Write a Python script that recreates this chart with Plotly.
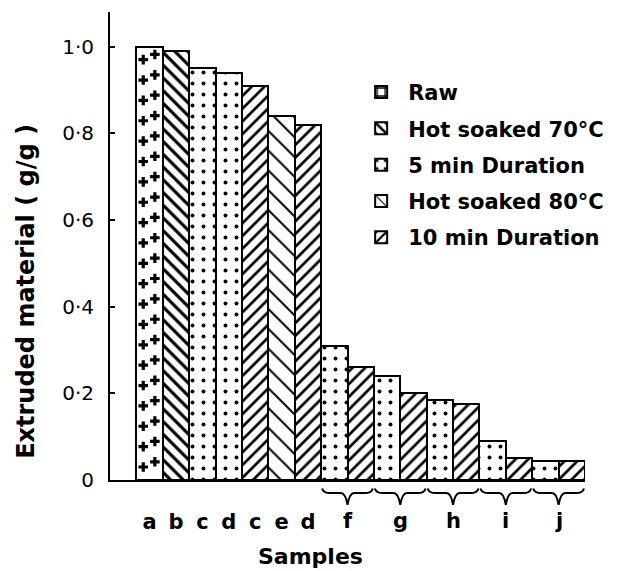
import numpy as np
import plotly.graph_objects as go

# ---- data ----
bar_labels = ["a", "b", "c", "d", "c", "e", "d",
              "f", "f", "g", "g", "h", "h", "i", "i", "j", "j"]
bar_series = ["Raw", "Hot soaked 70°C", "5 min Duration", "5 min Duration",
              "10 min Duration", "Hot soaked 80°C", "10 min Duration",
              "5 min Duration", "10 min Duration",
              "5 min Duration", "10 min Duration",
              "5 min Duration", "10 min Duration",
              "5 min Duration", "10 min Duration",
              "5 min Duration", "10 min Duration"]
bar_values = [1.00, 0.99, 0.95, 0.94, 0.91, 0.84, 0.82,
              0.31, 0.26, 0.24, 0.20, 0.185, 0.175, 0.09, 0.05, 0.045, 0.045]
series_order = ["Raw", "Hot soaked 70°C", "5 min Duration",
                "Hot soaked 80°C", "10 min Duration"]
group_labels = ["f", "g", "h", "i", "j"]
y_ticks = [0, 0.2, 0.4, 0.6, 0.8, 1.0]
y_ticktext = ["0", "0·2", "0·4", "0·6", "0·8", "1·0"]

patterns = {
    "Raw": dict(shape="+", size=11, solidity=0.3),
    "Hot soaked 70°C": dict(shape="\\", size=9, solidity=0.35),
    "5 min Duration": dict(shape=".", size=11, solidity=0.1),
    "Hot soaked 80°C": dict(shape="\\", size=14, solidity=0.14),
    "10 min Duration": dict(shape="/", size=9, solidity=0.3),
}

FONT = "DejaVu Sans"
BOLD = dict(family=FONT, color="black", weight="bold")
fig = go.Figure()
for s in series_order:
    xs = [i for i, ser in enumerate(bar_series) if ser == s]
    ys = [bar_values[i] for i in xs]
    p = patterns[s]
    fig.add_trace(go.Bar(
        x=xs, y=ys, name=s, width=1.0, legendgroup=s,
        marker=dict(color="white", line=dict(color="black", width=2),
                    pattern=dict(shape=p["shape"], size=p["size"],
                                 solidity=p["solidity"], fgcolor="black",
                                 fgopacity=1, bgcolor="white",
                                 fillmode="overlay")),
    ))

# Raw bar: discrete plus signs instead of a grid (legend keeps the pattern)
raw_idx = [i for i, ser in enumerate(bar_series) if ser == "Raw"]
for i in raw_idx:
    fig.add_trace(go.Bar(x=[i], y=[bar_values[i]], width=1.0, showlegend=False,
                         hoverinfo="skip",
                         marker=dict(color="white",
                                     line=dict(color="black", width=2))))
    rows = np.arange(0.03, bar_values[i] - 0.02, 0.047)
    cx = np.concatenate([np.full(len(rows), i - 0.24), np.full(len(rows), i + 0.2)])
    cy = np.concatenate([rows, rows + 0.012])
    fig.add_trace(go.Scatter(x=cx, y=cy, mode="markers", showlegend=False,
                             hoverinfo="skip",
                             marker=dict(symbol="cross", size=8, color="black",
                                         line=dict(width=0))))

# first seven bars get individual tick labels
single_idx = list(range(7))
fig.update_xaxes(
    range=[-1.5, len(bar_values) - 0.5],
    tickvals=single_idx, ticktext=[bar_labels[i] for i in single_idx],
    ticks="", ticklabelstandoff=22,
    tickfont=dict(size=21, **BOLD),
    showline=True, linecolor="black", linewidth=2,
    showgrid=False, zeroline=False,
)
fig.update_yaxes(
    range=[0, 1.08], tickvals=y_ticks, ticktext=y_ticktext,
    ticks="inside", ticklen=5, tickwidth=2, tickcolor="black",
    ticklabelstandoff=10,
    tickfont=dict(family=FONT, size=20, color="black"),
    showline=True, linecolor="black", linewidth=2,
    showgrid=False, zeroline=False,
)

# braces and labels for paired groups
shapes = []
annotations = []
for g in group_labels:
    idx = [i for i, l in enumerate(bar_labels) if l == g]
    left, right = min(idx) - 0.5, max(idx) + 0.5
    mid = (left + right) / 2
    y0, y1, y2 = -0.018, -0.028, -0.053
    path = (f"M {left+0.04},{y0} Q {left+0.08},{y1} {left+0.35},{y1} "
            f"L {mid-0.25},{y1} Q {mid-0.08},{y1} {mid},{y2} "
            f"Q {mid+0.08},{y1} {mid+0.25},{y1} "
            f"L {right-0.35},{y1} Q {right-0.08},{y1} {right-0.04},{y0}")
    shapes.append(dict(type="path", xref="x", yref="paper", path=path,
                       line=dict(color="black", width=2)))
    annotations.append(dict(x=mid, y=-0.088, xref="x", yref="paper",
                            text=g, showarrow=False, yanchor="middle",
                            font=dict(size=21, **BOLD)))

annotations.append(dict(x=0.423, y=-0.163, xref="paper", yref="paper",
                        text="Samples", showarrow=False, yanchor="middle",
                        font=dict(size=22, **BOLD)))
annotations.append(dict(x=-0.177, y=0.404, xref="paper", yref="paper",
                        text="Extruded material ( g/g )", showarrow=False,
                        textangle=-90, xanchor="center", yanchor="middle",
                        font=dict(size=24, **BOLD)))

fig.update_layout(
    width=638, height=571,
    margin=dict(l=102, r=61, t=4, b=99),
    plot_bgcolor="white", paper_bgcolor="white",
    barmode="overlay", bargap=0,
    showlegend=True,
    legend=dict(x=0.514, y=0.872, xanchor="left", yanchor="top",
                font=dict(size=21, **BOLD),
                tracegroupgap=6, bgcolor="rgba(0,0,0,0)",
                itemwidth=44),
    shapes=shapes, annotations=annotations,
)

fig.write_html("out.html")
